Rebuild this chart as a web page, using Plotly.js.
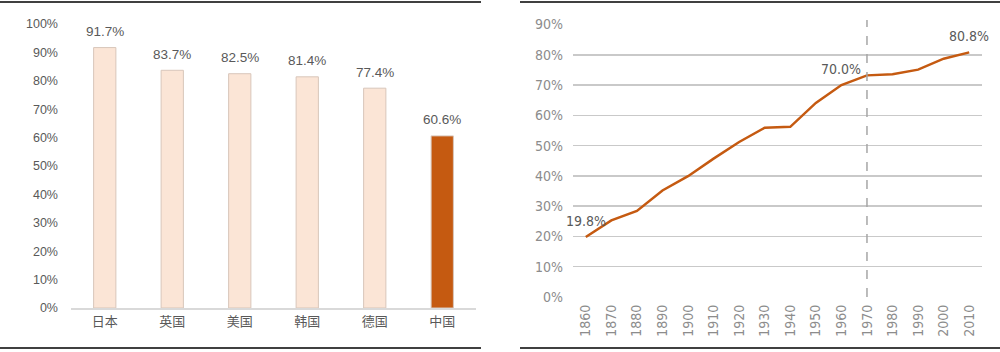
<!DOCTYPE html>
<html>
<head>
<meta charset="utf-8">
<script src="https://cdn.plot.ly/plotly-3.0.1.min.js"></script>
<style>html,body{margin:0;padding:0;background:#fff;}#chart{width:1000px;height:352px;}</style>
</head>
<body>
<div id="chart"></div>
<script>
// Left chart: urbanization rate by country
const countries = ['日本', '英国', '美国', '韩国', '德国', '中国'];
const countryRates = [0.917, 0.837, 0.825, 0.814, 0.774, 0.606];
const countryColors = ['#FBE5D6', '#FBE5D6', '#FBE5D6', '#FBE5D6', '#FBE5D6', '#C55A11'];

// Right chart: urbanization over time
const years = [1860, 1870, 1880, 1890, 1900, 1910, 1920, 1930, 1940, 1950, 1960, 1970, 1980, 1990, 2000, 2010];
const yearRates = [0.198, 0.253, 0.284, 0.352, 0.399, 0.457, 0.512, 0.559, 0.562, 0.641, 0.700, 0.732, 0.736, 0.751, 0.787, 0.808];
const yearLabels = ['19.8%','','','','','','','','','','70.0%','','','','','80.8%'];
const markerYear = 1970;

const font = '"Liberation Sans", "Noto Sans CJK SC", sans-serif';
const narrow = '"Liberation Sans Narrow", "DejaVu Sans Condensed", "Liberation Sans", sans-serif';
const cjk = '"Noto Sans CJK SC", sans-serif';

const traces = [
  {
    type: 'bar', x: countries, y: countryRates, xaxis: 'x', yaxis: 'y',
    width: 0.33,
    marker: {color: countryColors, line: {color: '#D8C6BA', width: 1}},
    hoverinfo: 'skip'
  },
  {
    type: 'scatter', mode: 'lines', x: years, y: yearRates, xaxis: 'x2', yaxis: 'y2',
    line: {color: '#C55A11', width: 2.5},
    hoverinfo: 'skip'
  }
];

const annotations = [];
countries.forEach((c, i) => {
  annotations.push({
    xref: 'x', yref: 'y', x: c, y: countryRates[i],
    text: (countryRates[i] * 100).toFixed(1) + '%', showarrow: false,
    yanchor: 'middle', yshift: 16,
    font: {family: font, size: 13.5, color: '#595959'}
  });
});
years.forEach((yr, i) => {
  if (!yearLabels[i]) return;
  annotations.push({
    xref: 'x2', yref: 'y2', x: yr, y: yearRates[i],
    text: yearLabels[i], showarrow: false,
    yanchor: 'middle', yshift: 16,
    font: {family: narrow, size: 14, color: '#595959'}
  });
});

const layout = {
  width: 1000, height: 352,
  margin: {l: 0, r: 0, t: 0, b: 0},
  paper_bgcolor: '#fff', plot_bgcolor: 'rgba(0,0,0,0)',
  showlegend: false,
  bargap: 0,
  annotations: annotations,
  xaxis: {
    domain: [0.071, 0.476], type: 'category', anchor: 'y',
    showgrid: false, showline: true, linecolor: '#D9D9D9', linewidth: 2,
    ticks: '', tickfont: {family: cjk, size: 13, color: '#595959'}
  },
  yaxis: {
    domain: [0.125, 0.9318], range: [0, 1], anchor: 'x',
    dtick: 0.1, tickformat: '.0%', showgrid: false, zeroline: false, showline: false,
    ticks: '', ticklabelstandoff: 12,
    tickfont: {family: font, size: 12.5, color: '#595959'}
  },
  xaxis2: {
    domain: [0.573, 0.982], type: 'linear', range: [1855, 2015], anchor: 'y2',
    tick0: 1860, dtick: 10, tickformat: 'd',
    showgrid: false, showline: false, zeroline: false, ticks: '', tickangle: -90,
    ticklabelstandoff: 4,
    tickfont: {family: narrow, size: 14, color: '#8C8C8C'}
  },
  yaxis2: {
    domain: [0.15625, 0.9304], range: [0, 0.9], anchor: 'x2',
    dtick: 0.1, tickformat: '.0%', showgrid: true, gridcolor: '#C9C9C9', gridwidth: 1.5,
    zeroline: false, showline: false, ticks: '', ticklabelstandoff: 9,
    tickfont: {family: narrow, size: 14, color: '#8C8C8C'}
  },
  shapes: [
    {type: 'line', xref: 'paper', yref: 'paper', x0: 0, x1: 0.481, y0: 0.9943, y1: 0.9943, line: {color: '#000', width: 1.5}},
    {type: 'line', xref: 'paper', yref: 'paper', x0: 0, x1: 0.481, y0: 0.0114, y1: 0.0114, line: {color: '#000', width: 1.5}},
    {type: 'line', xref: 'paper', yref: 'paper', x0: 0.520, x1: 1, y0: 0.9943, y1: 0.9943, line: {color: '#000', width: 1.5}},
    {type: 'line', xref: 'paper', yref: 'paper', x0: 0.520, x1: 1, y0: 0.0114, y1: 0.0114, line: {color: '#000', width: 1.5}},
    {type: 'line', xref: 'x2', yref: 'paper', x0: markerYear, x1: markerYear, y0: 0.15625, y1: 0.943, line: {color: '#A6A6A6', width: 1.5, dash: 'dash'}}
  ]
};

Plotly.newPlot('chart', traces, layout, {staticPlot: true, displayModeBar: false});
</script>
</body>
</html>
